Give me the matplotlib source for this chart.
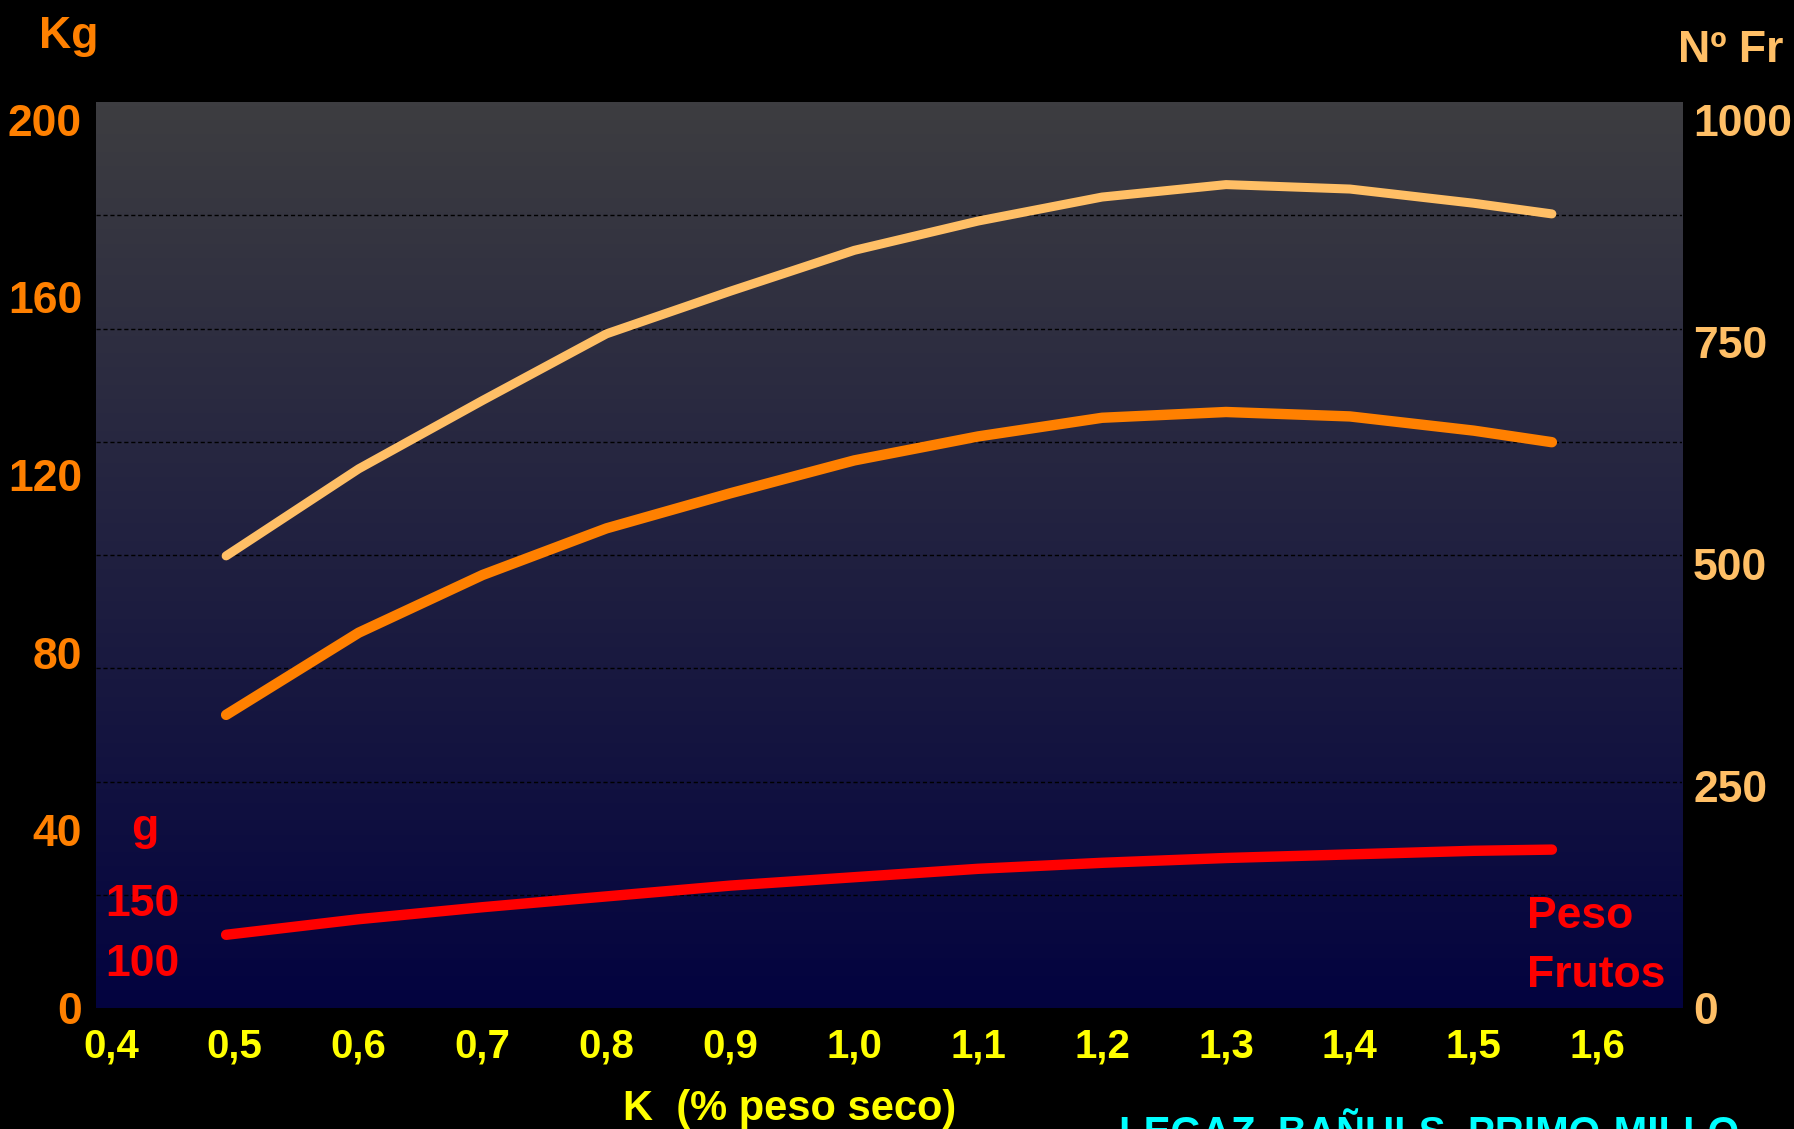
import numpy as np
import matplotlib.pyplot as plt
from matplotlib.transforms import offset_copy

# K foliar (% peso seco)
k_pct = [0.493, 0.6, 0.7, 0.8, 0.9, 1.0, 1.1, 1.2, 1.3, 1.4, 1.5, 1.563]
# produccion (Kg/arbol), eje izquierdo
kg = [66.0, 84.5, 97.5, 108.0, 115.9, 123.3, 128.7, 132.9, 134.2, 133.2, 130.0, 127.4]
# numero de frutos, eje derecho
n_frutos = [509, 607, 684, 759, 807, 853, 886, 913, 927, 922, 906, 894]
# peso medio de fruto (g), escala interna
peso_g = [121, 134, 144, 153, 162, 169, 176, 181, 185, 188, 191, 192]

x_ticks = [0.4, 0.5, 0.6, 0.7, 0.8, 0.9, 1.0, 1.1, 1.2, 1.3, 1.4, 1.5, 1.6]
x_labels = [f"{v:.1f}".replace(".", ",") for v in x_ticks]
kg_ticks = [0, 40, 80, 120, 160, 200]
fr_ticks = [0, 250, 500, 750, 1000]
g_labels = [150, 100]

NARANJA = "#FF8000"
CLARO = "#FFBF66"
ROJO = "#FF0000"
AMARILLO = "#FFFF00"
CIAN = "#00FFFF"

plt.rcParams["font.family"] = ["Liberation Sans", "DejaVu Sans"]
plt.rcParams["font.weight"] = "bold"

fig = plt.figure(figsize=(17.94, 11.29), dpi=100, facecolor="black")
pos = [96 / 1794, 1 - 1008 / 1129, (1682 - 96) / 1794, (1008 - 102) / 1129]

# fondo degradado gris -> azul marino
bg = fig.add_axes(pos, zorder=0)
top = np.array([61, 61, 65]) / 255
bot = np.array([3, 3, 63]) / 255
t = np.linspace(0, 1, 256)[:, None]
grad = top * (1 - t) + bot * t
bg.imshow(grad[:, None, :].repeat(2, axis=1), aspect="auto", extent=[0, 1, 0, 1])
bg.axis("off")

ax = fig.add_axes(pos, zorder=1)
ax.patch.set_visible(False)
ax2 = ax.twinx()
ax3 = ax.twinx()

for a in (ax, ax2, ax3):
    for s in a.spines.values():
        s.set_visible(False)

# rejilla punteada (8 franjas)
for f in np.arange(1, 8) / 8:
    ax.plot([0, 1], [f, f], transform=ax.transAxes, color="black",
            lw=1.0, ls=(0, (3, 2)), zorder=0.5)

ax.plot(k_pct, kg, color=NARANJA, lw=7.5, solid_capstyle="round", solid_joinstyle="round")
ax2.plot(k_pct, n_frutos, color=CLARO, lw=6.5, solid_capstyle="round", solid_joinstyle="round")
ax3.plot(k_pct, peso_g, color=ROJO, lw=7.5, solid_capstyle="round", solid_joinstyle="round")

ax.set_xlim(0.388, 1.668)
ax.set_ylim(0, 204)
ax2.set_ylim(0, 1020)
ax3.set_ylim(60, 815)

ax.set_xticks(x_ticks)
ax.set_xticklabels(x_labels)
ax.tick_params(axis="x", length=0, pad=14, labelsize=29, labelcolor=AMARILLO)
ax.set_yticks(kg_ticks)
ax.tick_params(axis="y", length=0, pad=10, labelsize=32, labelcolor=NARANJA)
ax2.set_yticks(fr_ticks)
ax2.tick_params(axis="y", length=0, pad=8, labelsize=32, labelcolor=CLARO)
ax3.set_yticks([])

# escala interna del peso de fruto
tr = offset_copy(ax3.get_yaxis_transform(), fig=fig, y=-11.5, units="points")
for v in g_labels:
    ax3.text(0.0293, v, str(v), transform=tr, ha="center", va="baseline",
             color=ROJO, fontsize=32, fontweight="bold")
ax3.text(0.0305, 200, "g", transform=ax3.get_yaxis_transform(), ha="center",
         va="baseline", color=ROJO, fontsize=32, fontweight="bold")

fig.text(0.851, 1 - 928 / 1129, "Peso", color=ROJO, fontsize=32, fontweight="bold", ha="left", va="baseline")
fig.text(0.851, 1 - 987 / 1129, "Frutos", color=ROJO, fontsize=32, fontweight="bold", ha="left", va="baseline")

fig.text(69 / 1794, 1 - 48 / 1129, "Kg", color=NARANJA, fontsize=32, fontweight="bold", ha="center", va="baseline")
fig.text(1731 / 1794, 1 - 62 / 1129, "Nº Fr", color=CLARO, fontsize=32, fontweight="bold", ha="center", va="baseline")
fig.text(790 / 1794, 1 - 1120 / 1129, "K  (% peso seco)", color=AMARILLO, fontsize=30, fontweight="bold",
         ha="center", va="baseline")
fig.text(1119 / 1794, 1 - 1145 / 1129, "LEGAZ, BAÑULS, PRIMO-MILLO", color=CIAN, fontsize=29,
         fontweight="bold", ha="left", va="baseline")

fig.savefig("out.png", dpi=100, facecolor="black")
